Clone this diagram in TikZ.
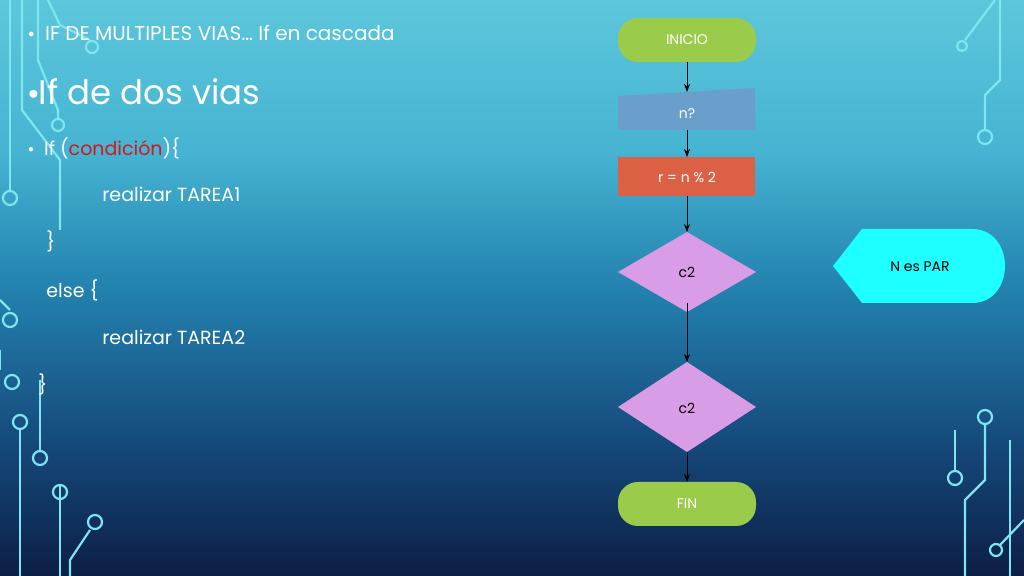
\documentclass[tikz,border=0pt]{standalone}
\usepackage{fontspec}
\setmainfont{Poppins}
\usetikzlibrary{shapes.geometric,arrows.meta}
\definecolor{circ}{HTML}{7EE6F0}
\definecolor{green1}{HTML}{9BCB4B}
\definecolor{blue1}{HTML}{6A9FCB}
\definecolor{red1}{HTML}{DC6044}
\definecolor{viol}{HTML}{D99CE6}
\definecolor{cyanb}{HTML}{1EFFFF}
\definecolor{cond}{HTML}{D0191B}
\pgfdeclareverticalshading{slidebg}{100bp}{%
  color(0bp)=(rgb,255:red,12;green,30;blue,70);
  color(25bp)=(rgb,255:red,12;green,30;blue,70);
  color(37bp)=(rgb,255:red,22;green,75;blue,125);
  color(50bp)=(rgb,255:red,35;green,130;blue,175);
  color(62bp)=(rgb,255:red,70;green,180;blue,210);
  color(75bp)=(rgb,255:red,92;green,198;blue,219);
  color(100bp)=(rgb,255:red,92;green,198;blue,219)}
\newcommand{\bul}{\raisebox{0.15em}{\scalebox{0.6}{$\bullet$}}}
\begin{document}
\begin{tikzpicture}[x=0.5pt,y=-0.5pt,
  txt/.style={text=white,font=\fontsize{9.5}{11}\selectfont,anchor=west,inner sep=0},
  fc/.style={text=white,font=\fontsize{7}{8}\selectfont},
  arr/.style={-{Stealth[length=4pt]},black,thin},
  cline/.style={circ,line width=1.1pt}]
\useasboundingbox (0,0) rectangle (1024,576);
\shade[shading=slidebg] (0,0) rectangle (1024,576);
% circuits left
\draw[cline] (10,0) -- (10,190); \draw[cline] (10,198) circle (7);
\draw[cline] (22,0) -- (22,110) -- (60,160) -- (60,230);
\draw[cline] (38,0) -- (38,60) -- (58,110) -- (58,118); \draw[cline] (58,125) circle (6);
\draw[cline] (48,0) -- (60,25) -- (90,40); \draw[cline] (92,47) circle (6);
\draw[cline] (0,300) -- (10,310);\draw[cline] (10,320) circle (7);
\draw[cline] (0,350) -- (0,370);\draw[cline] (12,382) circle (7);
\draw[cline] (40,380) -- (40,450); \draw[cline] (40,458) circle (7);
\draw[cline] (60,485) -- (60,576); \draw[cline] (60,492) circle (7);
\draw[cline] (20,430) -- (20,576); \draw[cline] (20,422) circle (7);
\draw[cline] (90,530) -- (70,560) -- (70,576);\draw[cline] (95,522) circle (7);
% circuits right
\draw[cline] (1000,0) -- (1000,80) -- (985,95) -- (985,130); \draw[cline] (985,137) circle (7);
\draw[cline] (995,0) -- (965,40); \draw[cline] (962,46) circle (5);
\draw[cline] (985,425) -- (985,480) -- (965,500) -- (965,576); \draw[cline] (985,417) circle (7);
\draw[cline] (1010,440) -- (1010,576);
\draw[cline] (955,430) -- (955,470);\draw[cline] (955,478) circle (7);
\draw[cline] (1024,520) -- (1000,545);\draw[cline] (996,550) circle (6);
% text
\node[txt,font=\fontsize{10}{12}\selectfont] (t1) at (28,33) {\bul\ \ IF DE MULTIPLES VIAS\dots\ If en cascada};
\node[txt,font=\fontsize{17}{20}\selectfont] (t2) at (28,92) {\bul If de dos vias};
\node[txt] (t3) at (28,148) {\bul\ \ If (\textcolor{cond}{condición})\{};
\node[txt] (t4) at (102,194) {realizar TAREA1};
\node[txt] (t5) at (46,241) {\}};
\node[txt] (t6) at (46,290) {else \{};
\node[txt] (t7) at (102,337) {realizar TAREA2};
\node[txt] (t8) at (38,384) {\}};
% flowchart
\fill[green1,rounded corners=10pt] (618,18) rectangle (756,62);
\node[fc] (ini) at (687,40) {INICIO};
\coordinate (iniB) at (687,62);
\fill[blue1] (618,96) -- (755,88) -- (755,130) -- (618,130) -- cycle;
\node[fc] (n) at (687,114) {n?};
\coordinate (nT) at (687,92); \coordinate (nB) at (687,130);
\fill[red1] (618,157) rectangle (755,196);
\node[fc] (r) at (687,177) {r = n \% 2};
\coordinate (rT) at (687,157); \coordinate (rB) at (687,196);
\fill[viol] (687,232) -- (756,272) -- (687,312) -- (618,272) -- cycle;
\node[fc,text=black] (c1) at (687,272) {c2};
\coordinate (c1T) at (687,232); \coordinate (c1B) at (687,303);
\fill[viol] (687,362) -- (756,407) -- (687,452) -- (618,407) -- cycle;
\node[fc,text=black] (c2) at (687,408) {c2};
\coordinate (c2T) at (687,362); \coordinate (c2B) at (687,452);
\fill[green1,rounded corners=10pt] (618,482) rectangle (756,526);
\node[fc] (fin) at (687,504) {FIN};
\coordinate (finT) at (687,482);
\fill[cyanb] (833,266) -- (862,229) -- (972,229) .. controls (1016,229) and (1016,303) .. (972,303) -- (862,303) -- cycle;
\node[fc,text=black] (par) at (920,267) {N es PAR};
\draw[arr] (iniB) -- (nT);
\draw[arr] (nB) -- (rT);
\draw[arr] (rB) -- (c1T);
\draw[arr] (c1B) -- (c2T);
\draw[arr] (c2B) -- (finT);
\end{tikzpicture}
\end{document}
